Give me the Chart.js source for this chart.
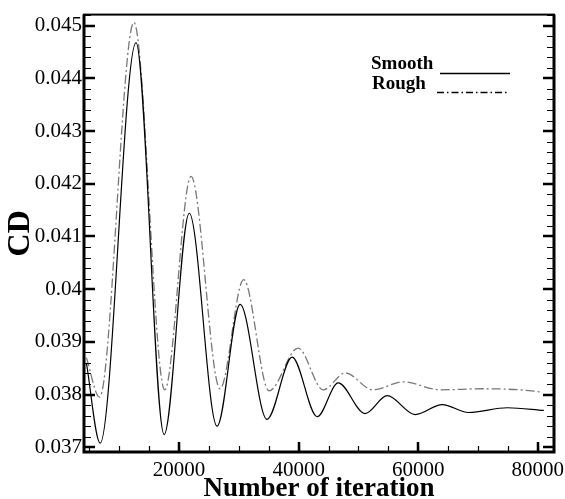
<!DOCTYPE html>
<html>
<head>
<meta charset="utf-8">
<script src="https://cdn.jsdelivr.net/npm/chart.js@4/dist/chart.umd.min.js"></script>
<style>
  body { margin: 0; background: #fff; }
  canvas { display: block; }
</style>
</head>
<body>
<canvas id="cdChart" width="565" height="499"></canvas>
<script>
// Data (iteration, CD)
const smoothIter = [4500, 6800, 12800, 17500, 21700, 26350, 30200, 34700, 38900, 43100, 46600, 51100, 54800, 59500, 64000, 68400, 74900, 81000];
const smoothCD   = [0.0386, 0.03708, 0.04468, 0.03724, 0.04144, 0.03740, 0.03971, 0.03753, 0.03871, 0.03758, 0.03822, 0.03764, 0.03798, 0.03762, 0.03781, 0.03766, 0.03775, 0.03770];

const roughIter = [4500, 6700, 12450, 17600, 22000, 26850, 30800, 35050, 39900, 44100, 47800, 52400, 57500, 63700, 70900, 77000, 80500];
const roughCD   = [0.0387, 0.03795, 0.04506, 0.03809, 0.04214, 0.03811, 0.04018, 0.03807, 0.03888, 0.03809, 0.03841, 0.03809, 0.03824, 0.03809, 0.03811, 0.03809, 0.03805];

// Tick values and labels
const xTickValues = [20000, 40000, 60000, 80000];
const yTickValues = [0.037, 0.038, 0.039, 0.040, 0.041, 0.042, 0.043, 0.044, 0.045];
const yTickLabels = ['0.037', '0.038', '0.039', '0.04', '0.041', '0.042', '0.043', '0.044', '0.045'];

const xMinorStep = 5000;
const yMinorStep = 0.0002;

const serif = '"Liberation Serif", "DejaVu Serif", serif';

// Frame with inward ticks (left, right, bottom) plus the legend in the corner
const frameTicks = {
  id: 'frameTicks',
  afterDraw(chart) {
    const ctx = chart.ctx;
    const a = chart.chartArea;
    const xs = chart.scales.x;
    const ys = chart.scales.y;
    ctx.save();
    ctx.strokeStyle = '#000';

    // minor ticks
    ctx.lineWidth = 1.2;
    ctx.beginPath();
    for (let v = 5000; v <= xs.max; v += xMinorStep) {
      if (v < xs.min) continue;
      const px = Math.round(xs.getPixelForValue(v)) + 0.5;
      ctx.moveTo(px, a.bottom); ctx.lineTo(px, a.bottom - 6);
    }
    for (let i = 0; ; i++) {
      const v = 0.037 + i * yMinorStep;
      if (v > ys.max) break;
      const py = Math.round(ys.getPixelForValue(v)) + 0.5;
      ctx.moveTo(a.left, py); ctx.lineTo(a.left + 7, py);
      ctx.moveTo(a.right, py); ctx.lineTo(a.right - 7, py);
    }
    ctx.stroke();

    // major ticks
    ctx.lineWidth = 2.5;
    ctx.beginPath();
    xTickValues.forEach(v => {
      const px = Math.round(xs.getPixelForValue(v));
      ctx.moveTo(px, a.bottom); ctx.lineTo(px, a.bottom - 10);
    });
    yTickValues.forEach(v => {
      const py = Math.round(ys.getPixelForValue(v));
      ctx.moveTo(a.left, py); ctx.lineTo(a.left + 11, py);
      ctx.moveTo(a.right, py); ctx.lineTo(a.right - 11, py);
    });
    ctx.stroke();

    // border
    ctx.lineWidth = 2;
    ctx.strokeRect(a.left, a.top, a.right - a.left, a.bottom - a.top);
    ctx.lineWidth = 3;
    ctx.beginPath();
    ctx.moveTo(a.left, a.top); ctx.lineTo(a.left, a.bottom); ctx.lineTo(a.right, a.bottom); ctx.lineTo(a.right, a.top);
    ctx.stroke();

    // legend
    ctx.fillStyle = '#000';
    ctx.font = 'bold 19px ' + serif;
    ctx.textBaseline = 'alphabetic';
    ctx.fillText('Smooth', 371, 69);
    ctx.fillText('Rough', 372, 89);
    ctx.lineWidth = 1.5;
    ctx.beginPath();
    ctx.moveTo(440, 73.5); ctx.lineTo(510, 73.5);
    ctx.stroke();
    ctx.setLineDash([7, 3, 1.5, 3]);
    ctx.beginPath();
    ctx.moveTo(437, 92.5); ctx.lineTo(509, 92.5);
    ctx.stroke();
    ctx.restore();
  }
};

const cdChart = new Chart(document.getElementById('cdChart').getContext('2d'), {
  type: 'line',
  data: {
    datasets: [
      {
        label: 'Smooth',
        data: smoothIter.map((x, i) => ({ x: x, y: smoothCD[i] })),
        borderColor: '#000',
        borderWidth: 1.2,
        pointRadius: 0,
        cubicInterpolationMode: 'monotone',
        fill: false
      },
      {
        label: 'Rough',
        data: roughIter.map((x, i) => ({ x: x, y: roughCD[i] })),
        borderColor: '#777',
        borderWidth: 1.3,
        borderDash: [9, 3, 2, 3],
        pointRadius: 0,
        cubicInterpolationMode: 'monotone',
        fill: false
      }
    ]
  },
  options: {
    responsive: false,
    animation: false,
    layout: { padding: { top: 11, right: 11, left: 0, bottom: 0 } },
    plugins: {
      legend: { display: false },
      tooltip: { enabled: false }
    },
    scales: {
      x: {
        type: 'linear',
        min: 4100,
        max: 82700,
        afterBuildTicks: (scale) => { scale.ticks = xTickValues.map(v => ({ value: v })); },
        afterFit: (scale) => {
          scale.height = 47;
          scale.paddingLeft = 0;
          scale.paddingRight = 0;
        },
        grid: { display: false, drawTicks: false },
        border: { display: false },
        ticks: {
          color: '#000',
          padding: 6,
          maxRotation: 0,
          font: { family: serif, size: 21 },
          callback: (v) => String(v)
        },
        title: {
          display: true,
          text: 'Number of iteration',
          color: '#000',
          padding: { top: 0, bottom: -6 },
          font: { family: serif, size: 27, weight: 'bold' }
        }
      },
      y: {
        min: 0.03691,
        max: 0.04521,
        afterBuildTicks: (scale) => { scale.ticks = yTickValues.map(v => ({ value: v })); },
        afterFit: (scale) => { scale.width = 84; },
        grid: { display: false, drawTicks: false },
        border: { display: false },
        ticks: {
          color: '#000',
          padding: 2,
          font: { family: serif, size: 21 },
          callback: (v, i) => yTickLabels[i]
        },
        title: {
          display: true,
          text: 'CD',
          color: '#000',
          padding: { top: 2, bottom: 0 },
          font: { family: serif, size: 32, weight: 'bold' }
        }
      }
    }
  },
  plugins: [frameTicks]
});
</script>
</body>
</html>
